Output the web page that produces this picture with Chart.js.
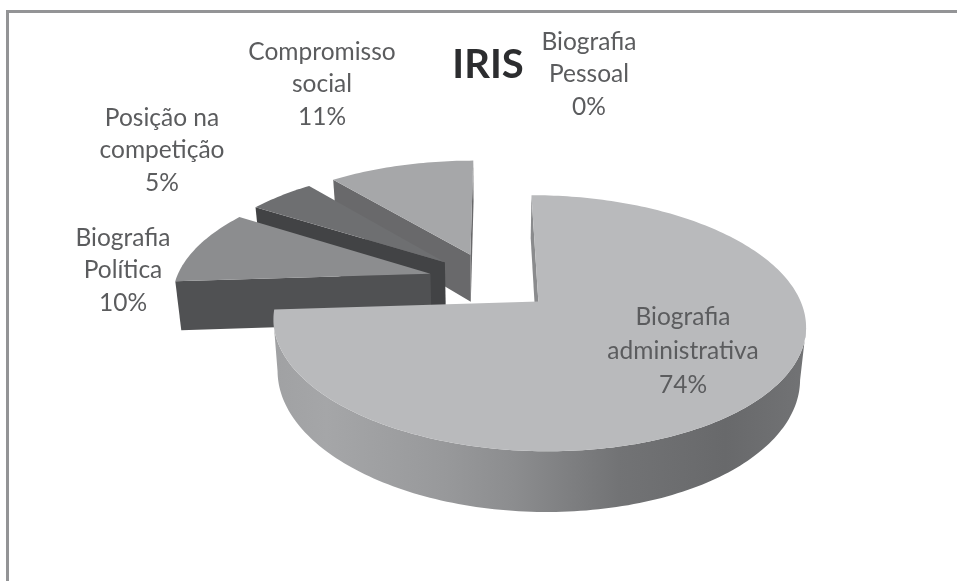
<!DOCTYPE html>
<html><head><meta charset="utf-8">
<style>html,body{margin:0;padding:0;background:#fff;overflow:hidden}canvas{display:block;filter:blur(.45px)}</style>
<script src="https://cdn.jsdelivr.net/npm/chart.js@4"></script>
</head><body><canvas id="c" width="957" height="581"></canvas>
<script>
const chartTitle = 'IRIS';
const categories = [['Biografia','administrativa'],['Biografia','Política'],['Posição na','competição'],['Compromisso','social'],['Biografia','Pessoal']];
const values = [74,10,5,11,0];
const topColors = ['#b9babc','#8c8d8f','#6e6f71','#a6a7a9','#d0d0d0'];
const sideColors = ['#8a8b8d','#505153','#424345','#69696b','#808080'];
const explode = [64,64,64,64,64];

// perspective of the pie plane onto the page
const view = {x0:491,y0:281,a:255,b:117.5,k:-0.165,depth:49,converge:0.019};
const labelSpots = [[683,317,34],[123,238,32.5],[162,118,32.5],[322,52,32.5],[589,42,32.5]];

const pie3d = {
  id:'pie3d',
  beforeDatasetsDraw(chart){
    const ctx = chart.ctx, arcs = chart.getDatasetMeta(0).data;
    const cx = arcs[0].x, cy = arcs[0].y;
    const proj = (px,py,R,drop)=>{
      const u=(px-cx)/R, v=(py-cy)/R, w=1+view.k*v;
      const x=view.a*u/w, y=view.y0+view.b*v/w;
      return drop ? {x:view.x0+x*(1-view.converge), y:y+view.depth/w} : {x:view.x0+x, y};
    };
    const grad = ctx.createLinearGradient(273,0,805,0);
    [[0,'#a0a1a3'],[0.1,'#a5a6a8'],[0.32,'#98999b'],[0.45,'#8c8d8f'],[0.65,'#727375'],[0.85,'#68696b'],[1,'#727375']]
      .forEach(s=>grad.addColorStop(s[0],s[1]));
    [4,3,2,1,0].forEach(i=>{
      const el = arcs[i];
      if(values[i]===0) return;
      const R=el.outerRadius, mid=(el.startAngle+el.endAngle)/2, off=el.options.offset;
      const ax=cx+Math.cos(mid)*off, ay=cy+Math.sin(mid)*off;
      const pts=[[ax,ay]], n=Math.ceil((el.endAngle-el.startAngle)/0.02);
      for(let j=0;j<=n;j++){
        const t=el.startAngle+(el.endAngle-el.startAngle)*j/n;
        pts.push([ax+Math.cos(t)*R,ay+Math.sin(t)*R]);
      }
      const top=pts.map(p=>proj(p[0],p[1],R,false)), low=pts.map(p=>proj(p[0],p[1],R,true));
      const m=pts.length;
      const wall=(from,to,fill)=>{
        ctx.fillStyle=fill;
        ctx.beginPath();
        for(let j=from;j<=to;j++){const p=top[j%m]; j===from?ctx.moveTo(p.x,p.y):ctx.lineTo(p.x,p.y);}
        for(let j=to;j>=from;j--){const p=low[j%m]; ctx.lineTo(p.x,p.y);}
        ctx.closePath();ctx.fill();
      };
      // flat faces beside the centre, then the one run of rim that faces the viewer
      if(top[1].x<top[0].x) wall(0,1,sideColors[i]);
      if(top[0].x<top[m-1].x) wall(m-1,m,sideColors[i]);
      let from=-1;
      for(let j=1;j<m-1;j++){
        const facing=top[j+1].x<top[j].x;
        if(facing&&from<0) from=j;
        if(from>=0&&(!facing||j===m-2)){ wall(from,facing?j+1:j,i===0?grad:sideColors[i]); from=-1; }
      }
      ctx.fillStyle=el.options.backgroundColor;
      ctx.beginPath();top.forEach((p,j)=>j?ctx.lineTo(p.x,p.y):ctx.moveTo(p.x,p.y));ctx.closePath();ctx.fill();
    });
    return false;
  },
  afterDraw(chart){
    const ctx=chart.ctx;
    ctx.save();
    ctx.strokeStyle='#939496';ctx.lineWidth=3;
    ctx.beginPath();ctx.moveTo(7.5,581);ctx.lineTo(7.5,11.5);ctx.lineTo(957,11.5);ctx.stroke();
    ctx.textAlign='center';ctx.textBaseline='middle';
    ctx.fillStyle='#5b5c5e';ctx.font='24.5px Lato';
    categories.forEach((lines,i)=>{
      const [x,y,lead]=labelSpots[i];
      lines.concat(values[i]+'%').forEach((t,j)=>ctx.fillText(t,x,y+j*lead));
    });
    ctx.fillStyle='#2c2d2f';ctx.font='bold 40px Lato';
    ctx.fillText(chartTitle,488,65);
    ctx.restore();
  }
};

new Chart(document.getElementById('c'),{
  type:'pie',
  data:{labels:categories,datasets:[{data:values,backgroundColor:topColors,offset:explode,borderWidth:0}]},
  options:{responsive:false,animation:false,layout:{padding:0},
    plugins:{legend:{display:false},tooltip:{enabled:false}}},
  plugins:[pie3d]
});
</script></body></html>
